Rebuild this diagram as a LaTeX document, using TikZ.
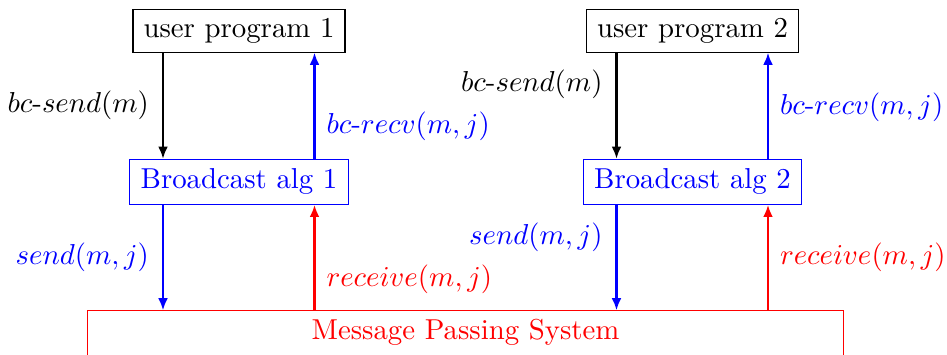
\documentclass[tikz,border=0pt]{standalone}
\usetikzlibrary{arrows.meta,calc}
\begin{document}
\begin{tikzpicture}[x=0.347pt,y=-0.347pt,
  userbox/.style={draw=black,inner sep=0pt,minimum width=73.6pt,minimum height=14.9pt},
  algbox/.style={draw=blue,text=blue,inner sep=0pt,minimum width=75.8pt,minimum height=15.6pt},
  flow/.style={line width=0.75pt,-{Latex[length=4.2pt,width=3.4pt]}},
  lbl/.style={inner sep=0pt}
]
\useasboundingbox (0,0) rectangle (947,354);
\clip (0,0) rectangle (947,354);

% user programs and broadcast algorithms
\node[userbox] (up1) at (239,30.7) {user program 1};
\node[userbox] (up2) at (692.5,30.7) {user program 2};
\node[algbox] (ba1) at (239,181.8) {Broadcast alg 1};
\node[algbox] (ba2) at (692.5,181.8) {Broadcast alg 2};

% message passing system (open at the bottom of the page)
\node[draw=red,text=red,anchor=north,minimum width=262.2pt,inner ysep=3.1pt,
      text height=6.83pt,text depth=25pt] (mps) at (465.5,310.3) {Message Passing System};

% attachment points of the connectors
\foreach \i in {1,2} {
  \coordinate (ua\i) at ($(up\i.south)+(-76,0)$);
  \coordinate (ub\i) at ($(up\i.south)+(75.5,0)$);
  \coordinate (ta\i) at ($(ba\i.north)+(-76,0)$);
  \coordinate (tb\i) at ($(ba\i.north)+(75.5,0)$);
  \coordinate (ba\i a) at ($(ba\i.south)+(-76,0)$);
  \coordinate (ba\i b) at ($(ba\i.south)+(75.5,0)$);
  \coordinate (ma\i) at (ba\i a |- mps.north);
  \coordinate (mb\i) at (ba\i b |- mps.north);
}

% process 1
\draw[flow,black] (ua1) -- node[lbl,pos=0.5,left=4.5pt] {$bc$-$send(m)$} (ta1);
\draw[flow,blue] (tb1) -- node[lbl,pos=0.31,right=3.8pt] {$bc$-$recv(m,j)$} (ub1);
\draw[flow,blue] (ba1a) -- node[lbl,pos=0.5,left=4.5pt] {$send(m,j)$} (ma1);
\draw[flow,red] (mb1) -- node[lbl,pos=0.29,right=3.8pt] {$receive(m,j)$} (ba1b);

% process 2
\draw[flow,black] (ua2) -- node[lbl,pos=0.30,left=4.5pt] {$bc$-$send(m)$} (ta2);
\draw[flow,blue] (tb2) -- node[lbl,pos=0.49,right=3.8pt] {$bc$-$recv(m,j)$} (ub2);
\draw[flow,blue] (ba2a) -- node[lbl,pos=0.31,left=4.5pt] {$send(m,j)$} (ma2);
\draw[flow,red] (mb2) -- node[lbl,pos=0.5,right=3.8pt] {$receive(m,j)$} (ba2b);
\end{tikzpicture}
\end{document}
